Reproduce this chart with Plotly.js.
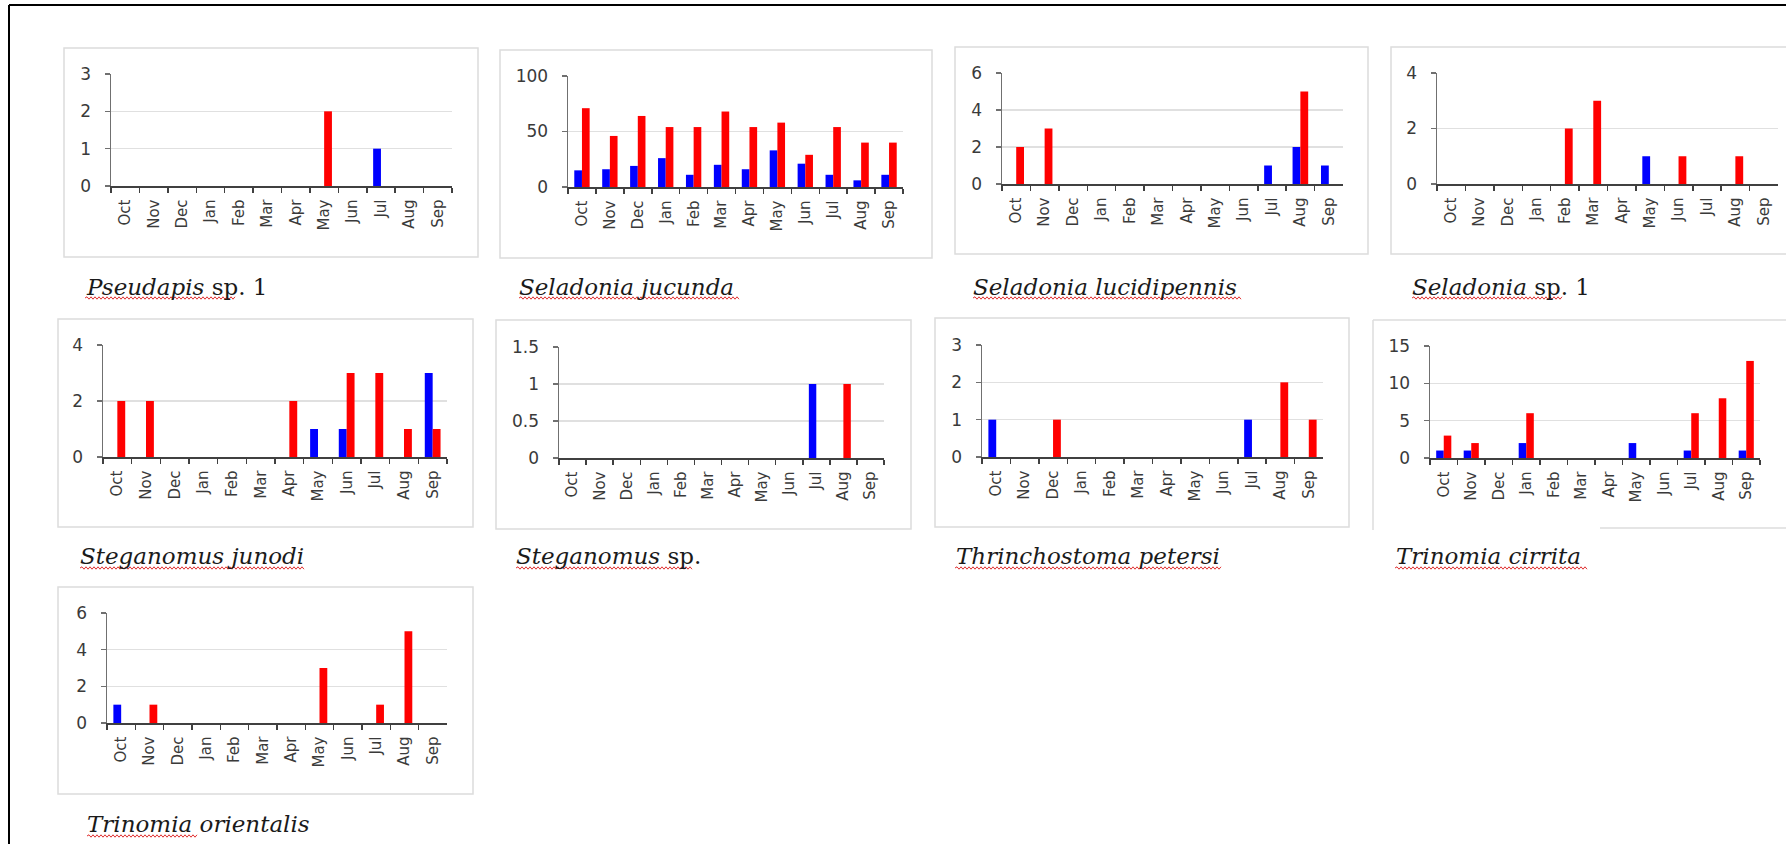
<!DOCTYPE html>
<html>
<head>
<meta charset="utf-8">
<script src="https://cdn.plot.ly/plotly-3.0.1.min.js"></script>
<style>
  html, body { margin: 0; padding: 0; background: #ffffff; }
  #chart { width: 1786px; height: 844px; }
</style>
</head>
<body>
<div id="chart"></div>
<script>
// ---------------- DATA ----------------
const months = ['Oct','Nov','Dec','Jan','Feb','Mar','Apr','May','Jun','Jul','Aug','Sep'];

const speciesNames = [
  '<i>Pseudapis</i> sp. 1',
  '<i>Seladonia jucunda</i>',
  '<i>Seladonia lucidipennis</i>',
  '<i>Seladonia</i> sp. 1',
  '<i>Steganomus junodi</i>',
  '<i>Steganomus</i> sp.',
  '<i>Thrinchostoma petersi</i>',
  '<i>Trinomia cirrita</i>',
  '<i>Trinomia orientalis</i>'
];

//                          Oct Nov Dec Jan Feb Mar Apr May Jun Jul Aug Sep
const pseudapisSp1Blue    = [0,  0,  0,  0,  0,  0,  0,  0,  0,  1,  0,  0];
const pseudapisSp1Red     = [0,  0,  0,  0,  0,  0,  0,  2,  0,  0,  0,  0];

const seladoniaJucundaBlue = [15, 16, 19, 26, 11, 20, 16, 33, 21, 11, 6, 11];
const seladoniaJucundaRed  = [71, 46, 64, 54, 54, 68, 54, 58, 29, 54, 40, 40];

const seladoniaLucidBlue  = [0,  0,  0,  0,  0,  0,  0,  0,  0,  1,  2,  1];
const seladoniaLucidRed   = [2,  3,  0,  0,  0,  0,  0,  0,  0,  0,  5,  0];

const seladoniaSp1Blue    = [0,  0,  0,  0,  0,  0,  0,  1,  0,  0,  0,  0];
const seladoniaSp1Red     = [0,  0,  0,  0,  2,  3,  0,  0,  1,  0,  1,  0];

const steganomusJunodiBlue = [0, 0,  0,  0,  0,  0,  0,  1,  1,  0,  0,  3];
const steganomusJunodiRed  = [2, 2,  0,  0,  0,  0,  2,  0,  3,  3,  1,  1];

const steganomusSpBlue    = [0,  0,  0,  0,  0,  0,  0,  0,  0,  1,  0,  0];
const steganomusSpRed     = [0,  0,  0,  0,  0,  0,  0,  0,  0,  0,  1,  0];

const thrinchostomaBlue   = [1,  0,  0,  0,  0,  0,  0,  0,  0,  1,  0,  0];
const thrinchostomaRed    = [0,  0,  1,  0,  0,  0,  0,  0,  0,  0,  2,  1];

const trinomiaCirritaBlue = [1,  1,  0,  2,  0,  0,  0,  2,  0,  1,  0,  1];
const trinomiaCirritaRed  = [3,  2,  0,  6,  0,  0,  0,  0,  0,  6,  8, 13];

const trinomiaOrientBlue  = [1,  0,  0,  0,  0,  0,  0,  0,  0,  0,  0,  0];
const trinomiaOrientRed   = [0,  1,  0,  0,  0,  0,  0,  3,  0,  1,  5,  0];

const yMax   = [3, 100, 6, 4, 4, 1.5, 3, 15, 6];
const yDtick = [1, 50, 2, 2, 2, 0.5, 1, 5, 2];

const blueSeries = [pseudapisSp1Blue, seladoniaJucundaBlue, seladoniaLucidBlue, seladoniaSp1Blue,
  steganomusJunodiBlue, steganomusSpBlue, thrinchostomaBlue, trinomiaCirritaBlue, trinomiaOrientBlue];
const redSeries = [pseudapisSp1Red, seladoniaJucundaRed, seladoniaLucidRed, seladoniaSp1Red,
  steganomusJunodiRed, steganomusSpRed, thrinchostomaRed, trinomiaCirritaRed, trinomiaOrientRed];

// ---------------- LAYOUT (pixel geometry) ----------------
const W = 1786, H = 844;
const px = x => x / W;
const py = y => 1 - y / H;

// plot areas: [left, right, top, bottom(zero line)]
const plotBoxes = [
  [111, 452, 74, 186],
  [568, 903, 76, 187],
  [1002, 1343, 73, 184],
  [1437, 1778, 73, 184],
  [103, 447, 345, 457],
  [559, 884, 347, 458],
  [982, 1323, 345, 457],
  [1430, 1760, 346, 458],
  [107, 447, 613, 723]
];
// chart frames: [left, top, right, bottom]
const frames = [
  [64, 48, 478, 257],
  [500, 50, 932, 258],
  [955, 47, 1368, 254],
  [1391, 47, 1800, 254],
  [58, 319, 473, 527],
  [496, 320, 911, 529],
  [935, 318, 1349, 527],
  [1373, 320, 1800, 528],
  [58, 587, 473, 794]
];
// caption anchors [x, yMiddle] and wavy underline [x1, x2, y]
const captions = [
  [84, 287], [517, 287], [971, 287], [1410, 287],
  [78, 556], [514, 556], [954, 556], [1394, 556],
  [85, 824]
];
const squiggles = [
  [85, 235, 298], [519, 740, 298], [973, 1242, 298], [1412, 1562, 298],
  [80, 305, 568], [516, 693, 568], [955, 1222, 568], [1395, 1588, 568],
  [87, 197, 836]
];

const traces = [];
const layout = {
  width: W, height: H, autosize: false,
  margin: {l: 0, r: 0, t: 0, b: 0},
  paper_bgcolor: '#ffffff', plot_bgcolor: 'rgba(0,0,0,0)',
  barmode: 'group', bargap: 0.45, bargroupgap: 0,
  showlegend: false,
  shapes: [], annotations: []
};

for (let i = 0; i < 9; i++) {
  const n = i + 1;
  const xa = 'x' + n, ya = 'y' + n;
  traces.push({
    type: 'bar', x: months, y: blueSeries[i], xaxis: xa, yaxis: ya,
    marker: {color: '#0000FF'}, hoverinfo: 'skip', showlegend: false
  });
  traces.push({
    type: 'bar', x: months, y: redSeries[i], xaxis: xa, yaxis: ya,
    marker: {color: '#FF0000'}, hoverinfo: 'skip', showlegend: false
  });
  const b = plotBoxes[i];
  layout['xaxis' + n] = {
    domain: [px(b[0]), px(b[1])], anchor: ya,
    type: 'category', categoryorder: 'array', categoryarray: months,
    range: [-0.5, 11.5], tickangle: -90,
    ticks: 'outside', tickson: 'boundaries', ticklen: 5, tickwidth: 1.5, tickcolor: '#404040',
    showline: true, linecolor: '#404040', linewidth: 1.5,
    showgrid: false, zeroline: false, fixedrange: true,
    ticklabelstandoff: 6,
    tickfont: {family: 'DejaVu Sans', size: 15, color: '#3a3a3a'}
  };
  layout['yaxis' + n] = {
    domain: [py(b[3]), py(b[2])], anchor: xa,
    range: [0, yMax[i]], dtick: yDtick[i], tick0: 0,
    ticks: 'outside', ticklen: 5, tickwidth: 1.5, tickcolor: '#707070',
    showline: true, linecolor: '#707070', linewidth: 1.5,
    showgrid: true, gridcolor: '#e0e0e0', gridwidth: 1.5,
    zeroline: false, fixedrange: true,
    ticklabelstandoff: 10,
    tickfont: {family: 'DejaVu Sans', size: 17, color: '#3a3a3a'}
  };

  const f = frames[i];
  if (i === 7) {
    layout.shapes.push({type: 'line', xref: 'paper', yref: 'paper',
      x0: px(f[0]), x1: px(f[2]), y0: py(f[1]), y1: py(f[1]), line: {color: '#dcdcdc', width: 1.5}});
    layout.shapes.push({type: 'line', xref: 'paper', yref: 'paper',
      x0: px(f[0]), x1: px(f[0]), y0: py(f[1]), y1: py(f[3] + 2), line: {color: '#dcdcdc', width: 1.5}});
    layout.shapes.push({type: 'line', xref: 'paper', yref: 'paper',
      x0: px(1600), x1: px(f[2]), y0: py(f[3]), y1: py(f[3]), line: {color: '#dcdcdc', width: 1.5}});
  } else {
    layout.shapes.push({type: 'rect', xref: 'paper', yref: 'paper', layer: 'below',
      x0: px(f[0]), x1: px(f[2]), y0: py(f[3]), y1: py(f[1]),
      line: {color: '#dcdcdc', width: 1.5}, fillcolor: 'rgba(0,0,0,0)'});
  }

  const c = captions[i];
  layout.annotations.push({
    xref: 'paper', yref: 'paper', x: px(c[0]), y: py(c[1]),
    xanchor: 'left', yanchor: 'middle', showarrow: false,
    text: speciesNames[i],
    font: {family: 'DejaVu Serif', size: 23, color: '#1a1a1a'}
  });

  const s = squiggles[i];
  let d = 'M ' + px(s[0]) + ',' + py(s[2]);
  let up = true;
  for (let x = s[0] + 2; x <= s[1]; x += 2) {
    d += ' L ' + px(x) + ',' + py(s[2] + (up ? -1.2 : 1.2));
    up = !up;
  }
  layout.shapes.push({type: 'path', xref: 'paper', yref: 'paper', path: d,
    line: {color: '#e03030', width: 1}});
}

// outer page frame (left and top edges)
layout.shapes.push({type: 'line', xref: 'paper', yref: 'paper',
  x0: px(9), x1: px(9), y0: 0, y1: py(5), line: {color: '#000000', width: 2}});
layout.shapes.push({type: 'line', xref: 'paper', yref: 'paper',
  x0: px(9), x1: 1, y0: py(5), y1: py(5), line: {color: '#000000', width: 2}});

Plotly.newPlot('chart', traces, layout, {staticPlot: true, displayModeBar: false});
</script>
</body>
</html>
